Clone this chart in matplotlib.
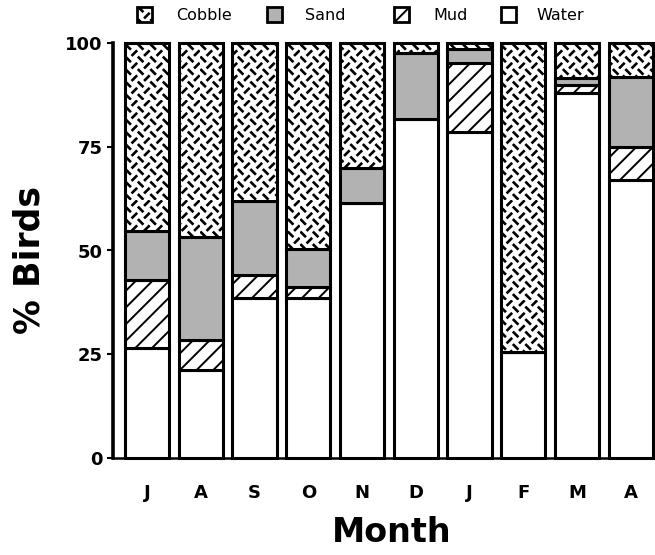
import warnings
import numpy as np
import matplotlib
matplotlib.use("Agg")
import matplotlib.pyplot as plt
import matplotlib.hatch as mhatch
from matplotlib.path import Path
from matplotlib.patches import Rectangle

warnings.filterwarnings("ignore")

# ---------------- data ----------------
months = ["J", "A", "S", "O", "N", "D", "J", "F", "M", "A"]
water = [26.6, 21.2, 38.5, 38.5, 61.5, 81.6, 78.6, 25.6, 87.9, 67.0]
mud = [16.4, 7.2, 5.6, 2.8, 0.0, 0.0, 16.7, 0.0, 2.0, 7.9]
sand = [11.7, 24.8, 17.9, 9.1, 8.3, 15.9, 3.2, 0.0, 1.6, 16.8]
cobble = [45.3, 46.8, 38.0, 49.6, 30.2, 2.5, 1.5, 74.4, 8.5, 8.3]
yticks = [0, 25, 50, 75, 100]
legend_labels = ["Cobble", "Sand", "Mud", "Water"]


# ------------- custom "cobble" hatch (diamond-plate dashes) -------------
class PlateHatch(mhatch.HatchPatternBase):
    def __init__(self, hatch, density):
        self.n = 8 if "c" in hatch else 0
        self.num_vertices = self.n * self.n * 4

    def set_vertices_and_codes(self, vertices, codes):
        n = self.n
        step = 1.0 / n
        d = step * 0.15
        k = 0
        for i in range(n):
            for j in range(n):
                cx, cy = (i + 0.25) * step, (j + 0.25) * step
                vertices[k] = (cx - d, cy + d)
                vertices[k + 1] = (cx + d, cy - d)
                cx, cy = (i + 0.75) * step, (j + 0.75) * step
                vertices[k + 2] = (cx - d, cy - d)
                vertices[k + 3] = (cx + d, cy + d)
                codes[k] = Path.MOVETO
                codes[k + 1] = Path.LINETO
                codes[k + 2] = Path.MOVETO
                codes[k + 3] = Path.LINETO
                k += 4


mhatch._hatch_types.append(PlateHatch)

plt.rcParams["font.family"] = ["DejaVu Sans"]

SAND = "#b2b2b2"
styles = {
    "Cobble": dict(facecolor="white", hatch="c", hlw=1.9),
    "Sand": dict(facecolor=SAND, hatch=None, hlw=1.0),
    "Mud": dict(facecolor="white", hatch="//", hlw=1.4),
    "Water": dict(facecolor="white", hatch=None, hlw=1.0),
}


def apply_hlw(patch, v):
    if hasattr(patch, "set_hatch_linewidth"):
        try:
            patch.set_hatch_linewidth(v)
        except Exception:
            pass


W, H = 655, 555
fig = plt.figure(figsize=(W / 100, H / 100), dpi=100)
ax = fig.add_axes([113 / W, (H - 458) / H, (655 - 113) / W, (458 - 43) / H])

x = np.arange(len(months))
bw = 0.82
lw = 2.2
w = np.array(water)
m = np.array(mud)
s = np.array(sand)
c = np.array(cobble)

layers = [("Water", w, 0), ("Mud", m, w), ("Sand", s, w + m), ("Cobble", c, w + m + s)]
for name, vals, bottom in layers:
    st = styles[name]
    plt.rcParams["hatch.linewidth"] = st["hlw"]
    bars = ax.bar(x, vals, bw, bottom=bottom, color=st["facecolor"], edgecolor="black",
                  hatch=st["hatch"], linewidth=lw, clip_on=False, zorder=3)
    for b in bars:
        apply_hlw(b, st["hlw"])

ax.set_xlim(-0.632, 9.45)
ax.set_ylim(0, 100)
ax.set_yticks(yticks)
ax.set_yticklabels([str(t) for t in yticks])
ax.set_xticks(x)
ax.set_xticklabels(months)

for sp in ["top", "right"]:
    ax.spines[sp].set_visible(False)
ax.spines["left"].set_linewidth(2.6)
ax.spines["bottom"].set_linewidth(1.8)

ax.tick_params(axis="y", direction="out", length=4.5, width=1.5, pad=3,
               labelsize=13)
ax.tick_params(axis="x", length=0, pad=19, labelsize=13)
for lab in ax.get_xticklabels() + ax.get_yticklabels():
    lab.set_fontweight("bold")

fig.text(29 / W, 1 - 260 / H, "% Birds", rotation=90, ha="center", va="center",
         fontsize=25, fontweight="bold")
fig.text(392 / W, 1 - 533 / H, "Month", ha="center", va="center",
         fontsize=24, fontweight="bold")

# legend across the top
patch_x = [137, 267, 394, 501]
text_x = [176, 305, 433, 536]
size = 15
for lbl, px, tx in zip(legend_labels, patch_x, text_x):
    st = styles[lbl]
    plt.rcParams["hatch.linewidth"] = st["hlw"]
    r = Rectangle((px / W, 1 - (7 + size) / H), size / W, size / H,
                  transform=fig.transFigure, facecolor=st["facecolor"],
                  edgecolor="black", hatch=st["hatch"], linewidth=2.0)
    apply_hlw(r, st["hlw"])
    fig.patches.append(r)
    fig.text(tx / W, 1 - 15 / H, lbl, ha="left", va="center", fontsize=11.5)

fig.savefig("out.png", dpi=100)
